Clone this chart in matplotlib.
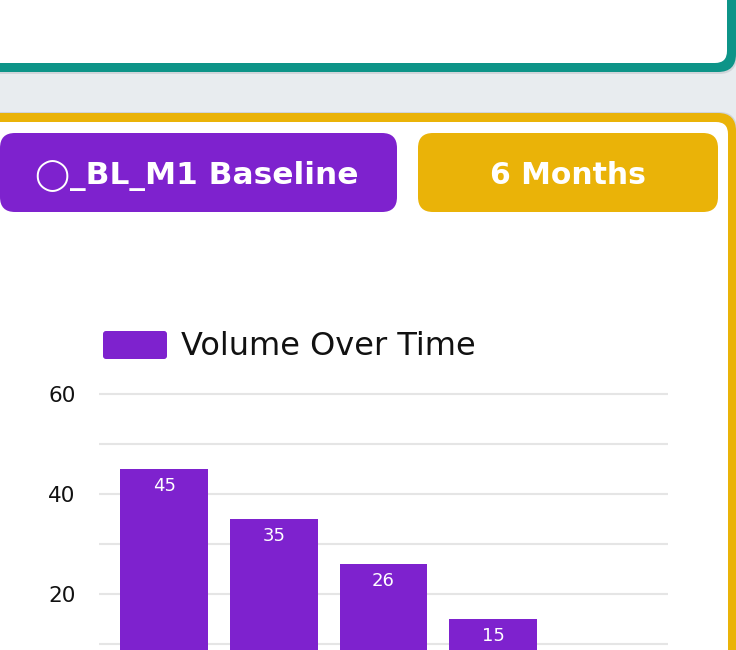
import matplotlib
matplotlib.use("Agg")
import matplotlib.pyplot as plt
from matplotlib.patches import FancyBboxPatch

# ---- data ----
categories = ["1", "2", "3", "4"]
values = [45, 35, 26, 15]
series_name = "Volume Over Time"
y_ticks = [20, 40, 60]
grid_values = [10, 20, 30, 40, 50, 60]
badge_left = "◯_BL_M1 Baseline"
badge_right = "6 Months"

PURPLE = "#7E22CE"
GOLD = "#EAB308"
TEAL = "#0D9488"
BG = "#E8ECEF"

W, H = 736, 650
fig = plt.figure(figsize=(W / 100, H / 100), dpi=100)
fig.patch.set_facecolor(BG)

bg = fig.add_axes([0, 0, 1, 1])
bg.set_xlim(0, W)
bg.set_ylim(H, 0)
bg.axis("off")


def rbox(x0, y0, x1, y1, r, color, z=1):
    p = FancyBboxPatch((x0 + r, y0 + r), (x1 - x0) - 2 * r, (y1 - y0) - 2 * r,
                       boxstyle=f"round,pad={r}", fc=color, ec="none", zorder=z)
    bg.add_patch(p)


# top card (teal border)
rbox(-60, -60, W + 1, 74, 18, "#d0d5da", 1)   # soft shadow
rbox(-60, -60, W, 72, 18, TEAL, 2)
rbox(-60, -60, 727, 63, 12, "white", 3)

# bottom card (gold border)
rbox(-60, 112, W + 1, H + 60, 18, "#d0d5da", 1)
rbox(-60, 113, W, H + 60, 18, GOLD, 2)
rbox(-60, 122, 728, H + 60, 12, "white", 3)

# badges
rbox(0, 133, 397, 212, 15, PURPLE, 4)
rbox(418, 133, 718, 212, 15, GOLD, 4)
bg.text(197, 184.5, badge_left, color="white", fontsize=22.5, fontweight="bold",
        family=["DejaVu Sans"], ha="center", va="baseline", zorder=5)
bg.text(568, 184.5, badge_right, color="white", fontsize=21.5, fontweight="bold",
        family=["DejaVu Sans"], ha="center", va="baseline", zorder=5)

# legend
rbox(103, 331, 167, 359, 3, PURPLE, 4)
bg.text(181, 355, series_name, color="#111111", fontsize=23,
        family=["DejaVu Sans"], ha="left", va="baseline", zorder=5)

# chart axes: pixel 99..668 horizontally, 384..650 vertically
ax = fig.add_axes([99 / W, 0, (668 - 99) / W, (650 - 384) / H])
ax.set_facecolor("none")
ax.set_zorder(5)
x = list(range(len(categories)))
ax.set_xlim(-0.593, 4.593)
ax.set_ylim(8.8, 62)
for g in grid_values:
    ax.axhline(g, color="#E5E5E5", lw=1.5, zorder=1)
bars = ax.bar(x, values, width=0.80, color=PURPLE, zorder=2)
for xi, v in zip(x, values):
    ax.annotate(str(v), (xi, v), xytext=(0, -5.5), textcoords="offset points",
                ha="center", va="top", color="white", fontsize=13,
                family=["DejaVu Sans"], zorder=3)
ax.set_yticks(y_ticks)
ax.set_yticklabels([str(t) for t in y_ticks], family="DejaVu Sans", fontsize=15.5, color="#111111")
ax.tick_params(axis="y", length=0, pad=17)
ax.set_xticks([])
for s in ax.spines.values():
    s.set_visible(False)

fig.savefig("out.png", dpi=100, facecolor=fig.get_facecolor())
